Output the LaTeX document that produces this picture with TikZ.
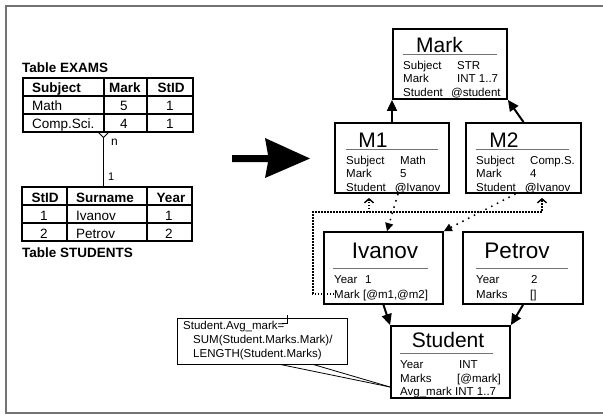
\documentclass[tikz,border=0pt]{standalone}
\usepackage{fontspec}
\setmainfont{Liberation Sans}
\usetikzlibrary{arrows.meta}
\begin{document}
\begin{tikzpicture}[x=1pt,y=-1pt,
  obox/.style={draw, line width=1.8pt, inner sep=0pt},
  ttl/.style={anchor=base, inner sep=0pt, font=\fontsize{21}{24}\selectfont},
  ttlb/.style={anchor=base, inner sep=0pt, font=\fontsize{22.5}{25}\selectfont},
  txt/.style={anchor=base west, inner sep=0pt, font=\fontsize{11.5}{13}\selectfont},
  uline/.style={draw=black!55, line width=1pt},
  tblbox/.style={draw, line width=1.4pt, inner sep=0pt},
  tblline/.style={line width=1.4pt},
  th/.style={anchor=base, inner sep=0pt, font=\fontsize{13.5}{15}\selectfont\bfseries},
  thw/.style={anchor=base west, inner sep=0pt, font=\fontsize{13.5}{15}\selectfont\bfseries},
  td/.style={anchor=base, inner sep=0pt, font=\fontsize{13.5}{15}\selectfont},
  tdw/.style={anchor=base west, inner sep=0pt, font=\fontsize{13.5}{15}\selectfont},
  conn/.style={line width=1pt},
  arr/.style={line width=2pt, -{Triangle[length=11pt,width=10pt]}},
  dotarr/.style={line width=1.5pt, dash pattern=on 1.5pt off 5pt, -{Triangle[length=8pt,width=8pt]}},
  loopdot/.style={line width=1.4pt, dash pattern=on 1.4pt off 1.6pt},
  chev/.style={-{Straight Barb[length=4pt,width=9pt]}},
  thinl/.style={line width=0.8pt}
]
\useasboundingbox (0,0) rectangle (603,415);
% frame
\draw[black!55, line width=1.6pt] (603,6) -- (6,6) -- (6,413) -- (603,413);

% ---- Table EXAMS
\node[thw] (texams) at (22,72) {Table EXAMS};
\node[tblbox, minimum width=170pt, minimum height=54pt] (exams) at (108,105) {};
\draw[tblline] (23,96) -- (193,96) (23,114) -- (193,114) (104,78) -- (104,132) (147,78) -- (147,132);
\node[thw] (eh1) at (32,92.5) {Subject};
\node[th] (eh2) at (125,92.5) {Mark};
\node[th] (eh3) at (171,92.5) {StID};
\node[tdw] (e11) at (32,110) {Math};
\node[td] (e12) at (124,110) {5};
\node[td] (e13) at (170,110) {1};
\node[tdw] (e21) at (32,128) {Comp.Sci.};
\node[td] (e22) at (124,128) {4};
\node[td] (e23) at (170,128) {1};

% ---- Table STUDENTS
\node[tblbox, minimum width=170pt, minimum height=54pt] (students) at (107,214) {};
\draw[tblline] (22,205) -- (192,205) (22,223) -- (192,223) (67,187) -- (67,241) (147,187) -- (147,241);
\node[th] (sh1) at (45,202) {StID};
\node[thw] (sh2) at (76,202) {Surname};
\node[th] (sh3) at (171,202) {Year};
\node[td] (s11) at (44,220) {1};
\node[tdw] (s12) at (76,220) {Ivanov};
\node[td] (s13) at (169,220) {1};
\node[td] (s21) at (44,238) {2};
\node[tdw] (s22) at (76,238) {Petrov};
\node[td] (s23) at (169,238) {2};
\node[thw] (tstud) at (22,257) {Table STUDENTS};

% relation
\coordinate (cf) at (103.5,137.5);
\coordinate (cfl) at (98,132);
\coordinate (cfr) at (109,132);
\draw[conn] (students.north -| cf) -- (cf);
\draw[conn] (cfl) -- (cf) -- (cfr);
\node[anchor=base west, inner sep=0pt, font=\fontsize{12}{14}\selectfont] (lbn) at (111,145) {n};
\node[anchor=base west, inner sep=0pt, font=\fontsize{11}{13}\selectfont] (lb1) at (108,180.5) {1};

% big arrow
\fill (232,155) -- (268,155) -- (265,138) -- (310,158.5) -- (265,178) -- (268,162) -- (232,162) -- cycle;

% ---- Mark
\node[obox, minimum width=114pt, minimum height=70pt] (mark) at (450,64) {};
\node[ttl] (markT) at (439.5,52) {Mark};
\draw[uline] (403,54) -- (497,54);
\node[txt] (mk1a) at (403,69) {Subject};
\node[txt] (mk1b) at (457,69) {STR};
\node[txt] (mk2a) at (403,82.5) {Mark};
\node[txt] (mk2b) at (457,82.5) {INT 1..7};
\node[txt] (mk3a) at (403,96) {Student};
\node[txt] (mk3b) at (451,96) {@student};

% ---- M1
\node[obox, minimum width=114pt, minimum height=70pt] (m1) at (392,158) {};
\node[ttl] (m1T) at (373,147) {M1};
\draw[uline] (346,149) -- (438,149);
\node[txt] (m11a) at (346,164) {Subject};
\node[txt] (m11b) at (400,164) {Math};
\node[txt] (m12a) at (346,177.5) {Mark};
\node[txt] (m12b) at (400,177.5) {5};
\node[txt] (m13a) at (346,191) {Student};
\node[txt] (m13b) at (395,191) {\textbf{@}Ivanov};

% ---- M2
\node[obox, minimum width=115pt, minimum height=70pt] (m2) at (523.5,158) {};
\node[ttl] (m2T) at (504,147) {M2};
\draw[uline] (476,149) -- (569,149);
\node[txt] (m21a) at (476,164) {Subject};
\node[txt] (m21b) at (530,164) {Comp.S.};
\node[txt] (m22a) at (476,177.5) {Mark};
\node[txt] (m22b) at (530,177.5) {4};
\node[txt] (m23a) at (476,191) {Student};
\node[txt] (m23b) at (525,191) {\textbf{@}Ivanov};

% ---- Ivanov
\node[obox, minimum width=119pt, minimum height=72pt] (ivanov) at (383.5,268) {};
\node[ttlb] (ivT) at (385,258) {Ivanov};
\draw[uline] (333,268) -- (428,268);
\node[txt] (iv1a) at (334,283.5) {Year};
\node[txt] (iv1b) at (365,283.5) {1};
\node[txt] (ivmk) at (334,298) {Mark};
\node[txt] (iv2b) at (363,298) {[@m1,@m2]};

% ---- Petrov
\node[obox, minimum width=120pt, minimum height=72pt] (petrov) at (523,268) {};
\node[ttlb] (ptT) at (517,258) {Petrov};
\draw[uline] (476,268) -- (568,268);
\node[txt] (pt1a) at (476,283.5) {Year};
\node[txt] (pt1b) at (531,283.5) {2};
\node[txt] (pt2a) at (476,298) {Marks};
\node[txt] (pt2b) at (530,298) {[]};

% ---- Student
\node[obox, minimum width=119pt, minimum height=72pt] (student) at (450.5,362) {};
\node[ttl] (stT) at (448,347) {Student};
\draw[uline] (400,353) -- (493,353);
\node[txt] (st1a) at (400,368) {Year};
\node[txt] (st1b) at (459,368) {INT};
\node[txt] (st2a) at (400,382) {Marks};
\node[txt] (st2b) at (457,382) {[@mark]};
\node[txt] (st3a) at (400,395) {Avg\_mark};
\node[txt] (st3b) at (455,395) {INT 1..7};

% ---- note
\node[draw, thinl, minimum width=170pt, minimum height=46pt, inner sep=0pt] (note) at (262,341) {};
\node[txt] (n1) at (183,329) {Student.Avg\_mark=};
\node[txt] (n2) at (193,343) {SUM(Student.Marks.Mark)/};
\node[txt] (n3) at (193,357) {LENGTH(Student.Marks)};
\draw[line width=0.6pt] (282,323) -- (287,323) -- (287,315);
\coordinate (cp) at ([yshift=-25pt]student.west);
\draw[thinl] ([xshift=18pt]note.south) -- (cp);
\draw[thinl] ([xshift=51pt]note.south) -- (cp);

% ---- solid arrows
\draw[arr] (m1.north) -- (m1.north |- mark.south);
\draw[arr] (m2.north) -- (mark.south east);
\draw[arr] (ivanov.south) -- (student.north west);
\draw[arr] (petrov.south) -- (student.north east);

% ---- dotted reference arrows
\draw[dotarr] ([xshift=6pt]m1.south) -- ([xshift=3.5pt]ivanov.north);
\draw[dotarr] ([xshift=-8pt]m2.south) -- (ivanov.north east);

% ---- back-reference loop
\coordinate (lA) at (313,212);
\coordinate (m1tip) at ([xshift=-23pt,yshift=-4pt]m1.south);
\coordinate (m2tip) at ([xshift=18.5pt,yshift=-4pt]m2.south);
\draw[loopdot, chev] (ivmk.west) -| (lA) -| (m2tip);
\draw[loopdot, chev] (m1tip |- lA) -- (m1tip);
\end{tikzpicture}
\end{document}
